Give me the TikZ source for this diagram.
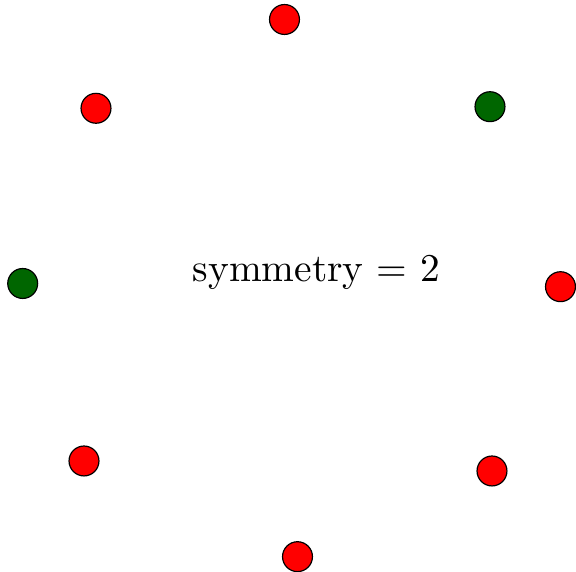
\documentclass[tikz,border=0pt]{standalone}
\usepackage{tikz}
\usetikzlibrary{positioning}
\tikzset{reddot/.style={circle,draw=black,fill=red,line width=.3pt,minimum size=7.6pt,inner sep=0pt},greendot/.style={circle,draw=black,fill=green!40!black,line width=.3pt,minimum size=7.6pt,inner sep=0pt},centrelabel/.style={font=\fontsize{10}{12}\selectfont,inner sep=0pt}}
\begin{document}
\begin{tikzpicture}[x=0.254pt,y=-0.254pt]
\useasboundingbox (0,0) rectangle (576,572);
\node[reddot] (top) at (284.5,19.5) {};
\node[reddot] (upleft) at (96,108.3) {};
\node[greendot] (upright) at (490,106.7) {};
\node[greendot] (left) at (22.7,283.5) {};
\node[reddot] (right) at (560.5,286.7) {};
\node[reddot] (lowleft) at (84,461) {};
\node[reddot] (lowright) at (492,471) {};
\node[reddot] (bottom) at (297.5,556.7) {};
\node[centrelabel] (sym) at (316.5,272) {symmetry = 2};
\end{tikzpicture}
\end{document}
